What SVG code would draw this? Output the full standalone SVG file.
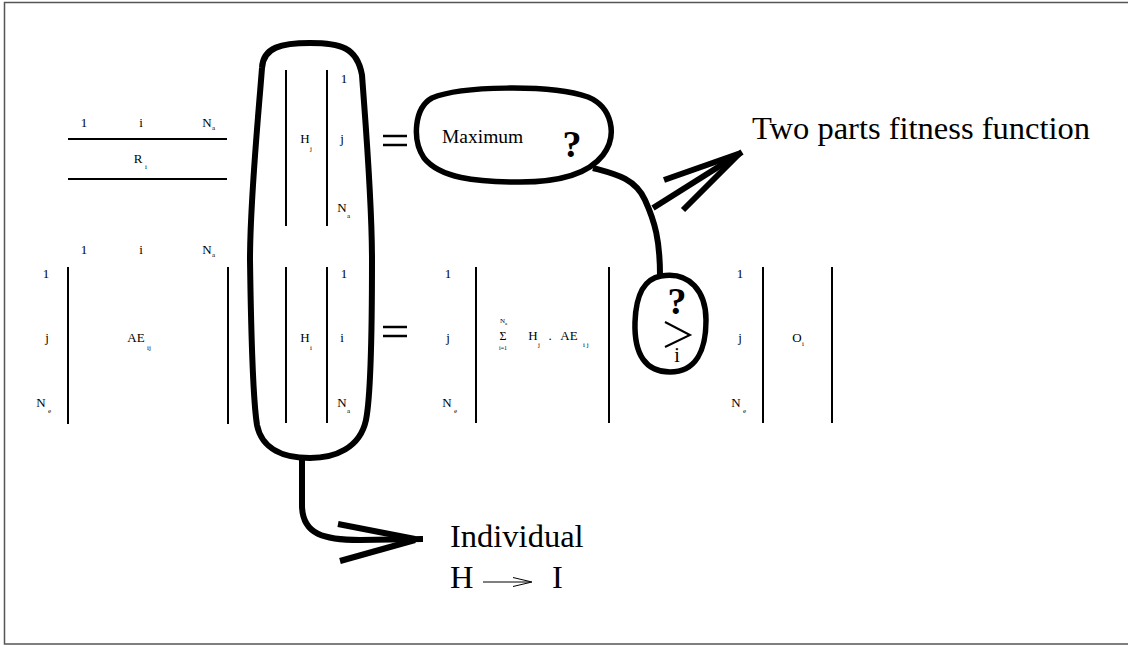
<svg xmlns="http://www.w3.org/2000/svg" width="1128" height="646" viewBox="0 0 1128 646">
<style>
text{font-family:"Liberation Serif","Times New Roman",serif;fill:#000}
.s{font-size:13px;text-anchor:middle}
.sub{font-size:7px}
.bar{stroke:#000;stroke-width:2;fill:none}
.thick{stroke:#000;stroke-width:6;fill:none;stroke-linecap:butt;stroke-linejoin:round}
.blob{stroke:#000;stroke-width:5.5;fill:none}
.big{font-size:32.5px}
</style>
<rect x="4.5" y="2.5" width="1130" height="641.5" fill="none" stroke="#555" stroke-width="1.5"/>

<g id="matrix-R">
<text class="s" x="84" y="127">1</text>
<text class="s" x="141" y="127">i</text>
<text class="s" x="207" y="127">N</text><text class="sub" x="212" y="130">a</text>
<line class="bar" x1="68" y1="139" x2="227" y2="139"/>
<text class="s" x="138" y="163">R</text><text class="sub" x="145" y="169">i</text>
<line class="bar" x1="68" y1="179" x2="227" y2="179"/>
</g>

<g id="matrix-AE">
<text class="s" x="84" y="254">1</text>
<text class="s" x="141" y="254">i</text>
<text class="s" x="207" y="254">N</text><text class="sub" x="212" y="257">a</text>
<text class="s" x="46" y="278">1</text>
<text class="s" x="47" y="342">j</text>
<text class="s" x="41" y="407">N</text><text class="sub" x="48" y="413">e</text>
<line class="bar" x1="68" y1="267" x2="68" y2="424"/>
<line class="bar" x1="228" y1="267" x2="228" y2="424"/>
<text class="s" x="136" y="342">AE</text><text class="sub" x="147" y="350">ij</text>
</g>

<g id="capsule">
<path class="thick" d="M 262,68 C 263,47 282,43 310,43 C 340,43 357,47 362,75 C 366,130 372,200 372,260 C 372,330 370,400 366,420 C 360,448 335,458 310,458 C 285,458 262,450 257,425 C 253,400 251,330 250,260 C 250,200 258,120 262,68 Z"/>
<line class="bar" x1="286" y1="70" x2="286" y2="226"/>
<line class="bar" x1="327" y1="70" x2="327" y2="226"/>
<text class="s" x="344" y="83">1</text>
<text class="s" x="305" y="143">H</text><text class="sub" x="310" y="151">j</text>
<text class="s" x="342" y="143">j</text>
<text class="s" x="342" y="212">N</text><text class="sub" x="347" y="218">a</text>
<line class="bar" x1="286" y1="267" x2="286" y2="423"/>
<line class="bar" x1="327" y1="267" x2="327" y2="423"/>
<text class="s" x="344" y="278">1</text>
<text class="s" x="305" y="342">H</text><text class="sub" x="310" y="350">i</text>
<text class="s" x="342" y="342">i</text>
<text class="s" x="342" y="407">N</text><text class="sub" x="347" y="413">a</text>
</g>

<g id="equals">
<line x1="383" y1="136" x2="407" y2="136" stroke="#000" stroke-width="2.5"/>
<line x1="383" y1="145" x2="407" y2="145" stroke="#000" stroke-width="2.5"/>
<line x1="383" y1="327" x2="407" y2="327" stroke="#000" stroke-width="2.5"/>
<line x1="383" y1="336" x2="407" y2="336" stroke="#000" stroke-width="2.5"/>
</g>

<g id="maximum">
<path class="blob" d="M 432,98 C 460,86 550,84 588,97 C 612,107 618,135 603,155 C 590,172 565,182 520,182 C 475,182 440,178 424,158 C 412,140 414,108 432,98 Z"/>
<text x="442" y="143" style="font-size:19.5px">Maximum</text>
<text x="572" y="157" style="font-size:38px;font-weight:bold;text-anchor:middle">?</text>
</g>

<g id="matrix-sum">
<text class="s" x="448" y="278">1</text>
<text class="s" x="448" y="342">j</text>
<text class="s" x="447" y="407">N</text><text class="sub" x="454" y="413">e</text>
<line class="bar" x1="476" y1="267" x2="476" y2="423"/>
<line class="bar" x1="609" y1="267" x2="609" y2="423"/>
<text x="500" y="323" style="font-size:7px">N</text><text x="505" y="325" style="font-size:5px">a</text>
<text class="s" x="503" y="340" style="font-size:12px">Σ</text>
<text x="503" y="350" style="font-size:6px;text-anchor:middle">i=1</text>
<text class="s" x="533" y="340">H</text><text class="sub" x="538" y="347">j</text>
<text class="s" x="550" y="340">.</text>
<text class="s" x="569" y="340">AE</text><text class="sub" x="583" y="347">i j</text>
</g>

<g id="compare">
<path class="blob" d="M 661,276 C 690,271 706,292 706,320 C 706,350 696,372 670,372 C 646,372 634,355 635,322 C 636,294 644,279 661,276 Z"/>
<text x="677" y="314" style="font-size:38px;font-weight:bold;text-anchor:middle">?</text>
<polyline points="665,322 690,335 665,347" fill="none" stroke="#000" stroke-width="2"/>
<text x="677" y="362" style="font-size:20px;text-anchor:middle">i</text>
</g>

<g id="matrix-O">
<text class="s" x="740" y="278">1</text>
<text class="s" x="740" y="342">j</text>
<text class="s" x="736" y="407">N</text><text class="sub" x="743" y="413">e</text>
<line class="bar" x1="763" y1="267" x2="763" y2="423"/>
<line class="bar" x1="832" y1="267" x2="832" y2="423"/>
<text class="s" x="797" y="342">O</text><text class="sub" x="802" y="346">i</text>
</g>

<g id="fitness-label">
<text class="big" x="752" y="139">Two parts fitness function</text>
</g>

<g id="individual-label">
<text class="big" x="450" y="547">Individual</text>
<text class="big" x="450" y="588">H</text>
<line x1="483" y1="582" x2="530" y2="582" stroke="#000" stroke-width="1"/>
<polyline points="513,577.5 532,582 513,586.5" fill="none" stroke="#000" stroke-width="1"/>
<text class="big" x="552" y="588">I</text>
</g>

<g id="connectors">
<path class="thick" d="M 593,168 C 615,174 635,178 645,200 C 655,222 660,240 660,276"/>
<path class="thick" d="M 653,208 L 742,152"/>
<path class="thick" d="M 664,180 L 738,154"/>
<path class="thick" d="M 683,210 L 740,153"/>
<path class="thick" d="M 302,458 L 302,505 C 302,535 325,540 360,540 L 423,539"/>
<path class="thick" d="M 338,524 L 415,539"/>
<path class="thick" d="M 340,561 L 415,540"/>
</g>
</svg>
